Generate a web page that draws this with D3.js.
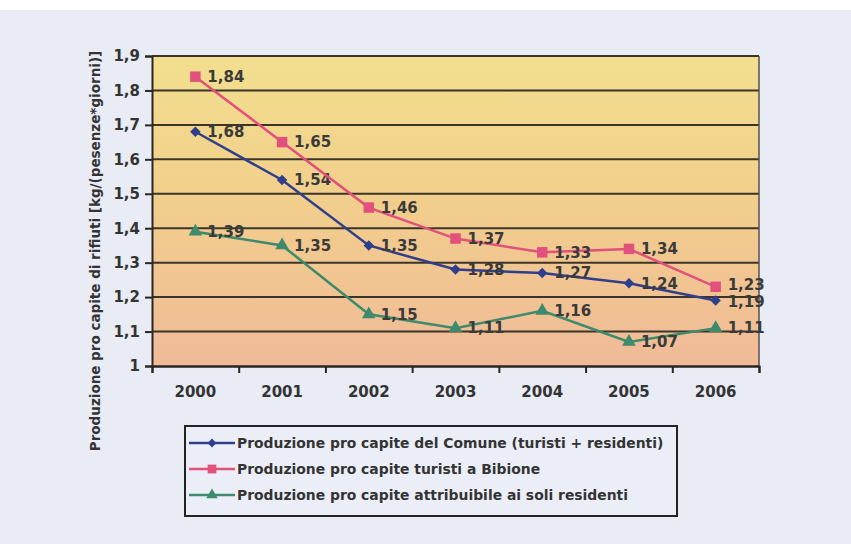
<!DOCTYPE html>
<html>
<head>
<meta charset="utf-8">
<script src="https://cdn.jsdelivr.net/npm/d3@7"></script>
<style>
  body { margin: 0; background: #fff; }
  svg { display: block; font-family: "DejaVu Sans", Verdana, sans-serif; }
</style>
</head>
<body>
<div id="chart"></div>
<script>
// anni e serie (kg / presenze*giorni)
var years = ["2000", "2001", "2002", "2003", "2004", "2005", "2006"];
var comune = [1.68, 1.54, 1.35, 1.28, 1.27, 1.24, 1.19];
var turisti = [1.84, 1.65, 1.46, 1.37, 1.33, 1.34, 1.23];
var residenti = [1.39, 1.35, 1.15, 1.11, 1.16, 1.07, 1.11];
var yTicks = [1, 1.1, 1.2, 1.3, 1.4, 1.5, 1.6, 1.7, 1.8, 1.9];
var seriesNames = [
  "Produzione pro capite del Comune (turisti + residenti)",
  "Produzione pro capite turisti a Bibione",
  "Produzione pro capite attribuibile ai soli residenti"
];

// il rombo e' un quadrato ruotato di 45 gradi
var series = [
  { name: seriesNames[0], values: comune, color: "#2f3f8c", symbol: d3.symbolSquare, size: 55, rot: 45 },
  { name: seriesNames[1], values: turisti, color: "#e2507c", symbol: d3.symbolSquare, size: 110, rot: 0 },
  { name: seriesNames[2], values: residenti, color: "#3d8a6c", symbol: d3.symbolTriangle, size: 80, rot: 0 }
];

var W = 851, H = 544;
var margin = {top: 56, right: 92, bottom: 178, left: 152};
var width = W - margin.left - margin.right,
    height = H - margin.top - margin.bottom;

var svg = d3.select("#chart").append("svg")
    .attr("width", W)
    .attr("height", H);

// carta scansionata
svg.append("rect").attr("x", 0).attr("y", 10).attr("width", W).attr("height", H - 10)
    .attr("fill", "#e9ebf5");

var defs = svg.append("defs");
var grad = defs.append("linearGradient").attr("id", "bg")
    .attr("x1", 0).attr("y1", 0).attr("x2", 0).attr("y2", 1);
grad.append("stop").attr("offset", "0%").attr("stop-color", "#f2df8e");
grad.append("stop").attr("offset", "45%").attr("stop-color", "#f2cf8c");
grad.append("stop").attr("offset", "100%").attr("stop-color", "#f0ba98");

var g = svg.append("g")
    .attr("transform", "translate(" + margin.left + "," + margin.top + ")");

var x = d3.scaleBand().domain(years).range([0, width]);
var y = d3.scaleLinear().domain([1, 1.9]).range([height, 0]);
var fmt = function(v) { return d3.format(".2~f")(v).replace(".", ","); };

g.append("rect").attr("width", width).attr("height", height).attr("fill", "url(#bg)");

// griglia
g.selectAll(".grid").data(yTicks.slice(1))
  .enter().append("line")
    .attr("x1", 0).attr("x2", width)
    .attr("y1", function(d) { return y(d); })
    .attr("y2", function(d) { return y(d); })
    .attr("stroke", "#3b3428").attr("stroke-width", 2);

g.append("line").attr("x1", width).attr("x2", width).attr("y1", 0).attr("y2", height)
    .attr("stroke", "#55524f").attr("stroke-width", 1.5);

// assi
var yAxis = g.append("g")
    .call(d3.axisLeft(y).tickValues(yTicks).tickSize(7).tickFormat(function(d) { return fmt(d); }));
var xAxis = g.append("g")
    .attr("transform", "translate(0," + height + ")")
    .call(d3.axisBottom(x).tickSize(0).tickPadding(20));
g.append("g")
    .attr("transform", "translate(0," + height + ")")
    .call(d3.axisBottom(d3.scaleLinear().domain([0, years.length]).range([0, width]))
      .ticks(years.length).tickSize(7).tickFormat(""));

g.selectAll(".domain").attr("stroke", "#2a2622").attr("stroke-width", 2);
g.selectAll(".tick line").attr("stroke", "#2a2622").attr("stroke-width", 2);
g.selectAll(".tick text")
    .attr("font-size", 15).attr("font-weight", "bold").attr("fill", "#333")
    .attr("font-family", "DejaVu Sans, sans-serif");
yAxis.selectAll(".tick text").attr("x", -12);

// linee e marcatori
var line = d3.line()
    .x(function(d, i) { return x(years[i]) + x.bandwidth() / 2; })
    .y(function(d) { return y(d); });

// spostamento verticale delle etichette troppo vicine nello stesso anno
function labelShift(si, i) {
  var me = y(series[si].values[i]), shift = 0;
  series.forEach(function(o, oi) {
    if (oi === si) return;
    var other = y(o.values[i]);
    var gap = Math.abs(other - me);
    if (gap < 17) shift += (me < other ? -1 : 1) * (17 - gap) / 2;
  });
  return shift;
}

series.forEach(function(s, si) {
  g.append("path").datum(s.values)
    .attr("fill", "none").attr("stroke", s.color).attr("stroke-width", 2.5)
    .attr("d", line);
  g.selectAll(null).data(s.values)
    .enter().append("path")
      .attr("d", d3.symbol().type(s.symbol).size(s.size))
      .attr("transform", function(d, i) {
        return "translate(" + (x(years[i]) + x.bandwidth() / 2) + "," + y(d) + ") rotate(" + s.rot + ")";
      })
      .attr("fill", s.color);
  g.selectAll(null).data(s.values)
    .enter().append("text")
      .attr("x", function(d, i) { return x(years[i]) + x.bandwidth() / 2 + 12; })
      .attr("y", function(d, i) { return y(d) + labelShift(si, i); })
      .attr("dy", "0.35em")
      .attr("font-size", 15).attr("font-weight", "bold").attr("fill", "#3a3a3a")
      .text(function(d) { return fmt(d); });
});

// titolo asse y
svg.append("text")
    .attr("transform", "translate(100," + (margin.top + 195) + ") rotate(-90)")
    .attr("text-anchor", "middle")
    .attr("font-size", 13.5).attr("font-weight", "bold").attr("fill", "#333")
    .text("Produzione pro capite di rifiuti [kg/(pesenze*giorni)]");

// legenda
var leg = svg.append("g").attr("transform", "translate(185,426)");
leg.append("rect").attr("width", 492).attr("height", 90)
    .attr("fill", "#eceef7").attr("stroke", "#222").attr("stroke-width", 2);
series.forEach(function(s, i) {
  var row = leg.append("g").attr("transform", "translate(0," + (17 + i * 26) + ")");
  row.append("line").attr("x1", 4).attr("x2", 50).attr("stroke", s.color).attr("stroke-width", 2.5);
  row.append("path").attr("d", d3.symbol().type(s.symbol).size(s.size * 0.7))
      .attr("transform", "translate(27,0) rotate(" + s.rot + ")").attr("fill", s.color);
  row.append("text").attr("x", 52).attr("dy", "0.35em")
      .attr("font-size", 13.9).attr("font-weight", "bold").attr("fill", "#333")
      .text(s.name);
});
</script>
</body>
</html>
